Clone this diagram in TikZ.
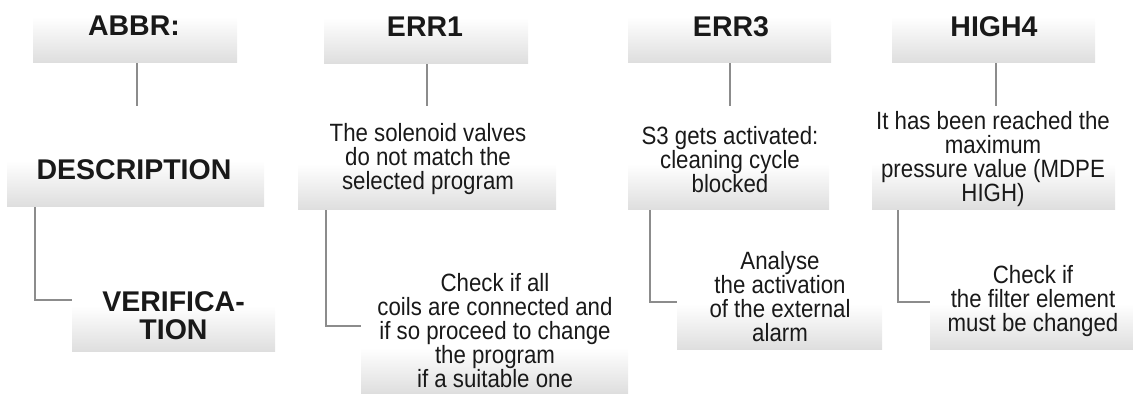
\documentclass[tikz,border=0pt]{standalone}
\usepackage{fontspec}
\setmainfont{Liberation Sans}
\newfontfamily\bodyfont{Liberation Sans}[FakeStretch=0.89]
\begin{document}
\begin{tikzpicture}[x=1pt,y=-1pt,
  gbox/.style={shape=rectangle,inner sep=0pt,draw=none,top color=white,bottom color=black!13,minimum height=46},
  headtxt/.style={inner sep=0pt,font=\fontsize{28.5}{30}\selectfont\bfseries,text=black!90},
  bodytxt/.style={inner sep=0pt,align=center,font=\bodyfont\fontsize{25}{24}\selectfont,text=black!90},
  conn/.style={draw=black!45,line width=1.8pt}]
\useasboundingbox (0,0) rectangle (1133,394);
% header boxes
\node[gbox,minimum width=204,anchor=south] (h1) at (135,63) {};
\node[gbox,minimum width=204,anchor=south] (h2) at (426,64) {};
\node[gbox,minimum width=203,anchor=south] (h3) at (729.5,63) {};
\node[gbox,minimum width=203,anchor=south] (h4) at (993.5,63) {};
% description boxes
\node[gbox,minimum width=257,anchor=south] (d1) at (135.5,207) {};
\node[gbox,minimum width=258,anchor=south] (d2) at (427,210) {};
\node[gbox,minimum width=201,anchor=south] (d3) at (728.5,210) {};
\node[gbox,minimum width=243,anchor=south] (d4) at (993.5,210) {};
% verification boxes
\node[gbox,minimum width=203,anchor=south] (v1) at (173.5,352) {};
\node[gbox,minimum width=267,anchor=south] (v2) at (494.5,394) {};
\node[gbox,minimum width=205,anchor=south] (v3) at (779.5,350) {};
\node[gbox,minimum width=205,anchor=south] (v4) at (1032.5,350) {};
% connector coordinates
\coordinate (a1) at (137,106);
\coordinate (a2) at (427,106);
\coordinate (a3) at (730,106);
\coordinate (a4) at (996,106);
\coordinate (e1) at (35,300);
\coordinate (e2) at (326,326);
\coordinate (e3) at (650,302);
\coordinate (e4) at (898,302);
% connectors
\draw[conn] (a1 |- h1.south) -- (a1);
\draw[conn] (a2 |- h2.south) -- (a2);
\draw[conn] (a3 |- h3.south) -- (a3);
\draw[conn] (a4 |- h4.south) -- (a4);
\draw[conn] (e1 |- d1.south) -- (e1) -- (v1.west |- e1);
\draw[conn] (e2 |- d2.south) -- (e2) -- (v2.west |- e2);
\draw[conn] (e3 |- d3.south) -- (e3) -- (v3.west |- e3);
\draw[conn] (e4 |- d4.south) -- (e4) -- (v4.west |- e4);
% texts
\node[headtxt] (t1) at (134,26) {ABBR:};
\node[headtxt] (t2) at (425,27) {ERR1};
\node[headtxt] (t3) at (731,27) {ERR3};
\node[headtxt] (t4) at (994,27) {HIGH4};
\node[headtxt] (s1) at (134,170) {DESCRIPTION};
\node[headtxt,align=center,font=\fontsize{28.5}{28}\selectfont\bfseries] (r1) at (173.5,316) {VERIFICA-\\TION};
\node[bodytxt] (s2) at (428,159) {The solenoid valves\\do not match the\\selected program};
\node[bodytxt] (s3) at (730,160) {S3 gets activated:\\cleaning cycle\\blocked};
\node[bodytxt] (s4) at (993,159) {It has been reached the\\maximum\\pressure value (MDPE\\HIGH)};
\node[bodytxt] (r2) at (495,331) {Check if all\\coils are connected and\\if so proceed to change\\the program\\if a suitable one};
\node[bodytxt] (r3) at (780,297) {Analyse\\the activation\\of the external\\alarm};
\node[bodytxt] (r4) at (1033,301) {Check if\\the filter element\\must be changed};
\end{tikzpicture}
\end{document}
